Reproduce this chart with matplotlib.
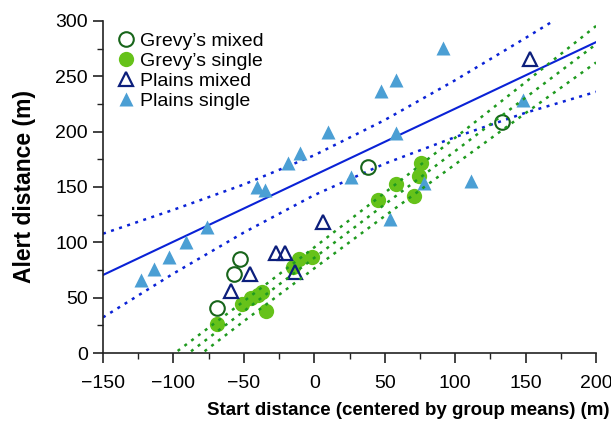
import numpy as np
import matplotlib
matplotlib.use("Agg")
import matplotlib.pyplot as plt
from matplotlib.ticker import MultipleLocator

plt.rcParams['font.family'] = ['Liberation Sans', 'DejaVu Sans']

# data (x = centered start distance, y = alert distance)
grevy_mixed_x = [-69, -57, -53, 38, 133]
grevy_mixed_y = [41, 71, 85, 168, 209]

grevy_single_x = [-69, -51, -45, -40, -37, -34, -15, -11, -2, 45, 58, 71, 74, 76]
grevy_single_y = [26, 44, 50, 52, 55, 38, 78, 85, 87, 138, 153, 142, 160, 172]

plains_mixed_x = [-59, -46, -27, -21, -14, 6, 153]
plains_mixed_y = [56, 71, 90, 90, 73, 118, 266]

plains_single_x = [-123, -114, -103, -91, -76, -41, -35, -19, -10, 10, 26,
                   47, 58, 58, 91, 78, 111, 148, 54]
plains_single_y = [66, 76, 87, 100, 114, 150, 147, 172, 181, 200, 159,
                   237, 247, 199, 276, 154, 155, 229, 121]

# fitted lines and confidence bands, read at these x positions
band_x = [-150, -100, -50, 0, 50, 100, 150, 200]
plains_fit = [70.5, 100.6, 130.6, 160.7, 190.8, 220.8, 250.9, 280.9]
plains_upper = [107.8, 129.4, 152.3, 178.7, 210.5, 246.5, 284.7, 323.7]
plains_lower = [32.2, 71.8, 108.9, 142.7, 171.1, 195.1, 217.1, 236.0]

grevy_fit = [-58.8, -10.5, 37.8, 86.0, 134.3, 182.5, 230.8, 279.0]
grevy_upper = [-49.0, -1.0, 46.8, 95.5, 144.8, 194.5, 244.8, 295.5]
grevy_lower = [-69.0, -20.0, 28.8, 76.5, 123.8, 170.5, 216.8, 262.5]

fig = plt.figure(figsize=(6.11, 4.28), dpi=100)
ax = fig.add_axes([0.1686, 0.1752, 0.807, 0.7758])

line_blue = '#0a22d6'
line_green = '#1f9a1f'

# regression lines
ax.plot(band_x, plains_fit, color=line_blue, lw=1.5, zorder=1)
ax.plot(band_x, plains_upper, color=line_blue, lw=1.8, ls=(0, (1.2, 2.2)), zorder=1)
ax.plot(band_x, plains_lower, color=line_blue, lw=1.8, ls=(0, (1.2, 2.2)), zorder=1)
for ys in (grevy_fit, grevy_upper, grevy_lower):
    ax.plot(band_x, ys, color=line_green, lw=1.8, ls=(0, (1.2, 2.2)), zorder=3)

# points
ax.plot(grevy_mixed_x, grevy_mixed_y, 'o', ms=10.5, mfc='none', mec='#17651a',
        mew=1.5, label="Grevy\u2019s mixed", zorder=2)
ax.plot(grevy_single_x, grevy_single_y, 'o', ms=11, mfc='#66c21a', mec='none',
        label="Grevy\u2019s single", zorder=2)
ax.plot(plains_mixed_x, plains_mixed_y, '^', ms=10.5, mfc='none', mec='#0c1f7c',
        mew=1.6, label="Plains mixed", zorder=2)
ax.plot(plains_single_x, plains_single_y, '^', ms=10.5, mfc='#4b9fd4', mec='none',
        label="Plains single", zorder=2)

ax.set_xlim(-150, 200)
ax.set_ylim(0, 300)
ax.xaxis.set_major_locator(MultipleLocator(50))
ax.xaxis.set_minor_locator(MultipleLocator(25))
ax.yaxis.set_major_locator(MultipleLocator(50))
ax.yaxis.set_minor_locator(MultipleLocator(25))

for side in ('top', 'right'):
    ax.spines[side].set_visible(False)
for side in ('left', 'bottom'):
    ax.spines[side].set_linewidth(1.2)
    ax.spines[side].set_color('#222222')

ax.tick_params(which='major', direction='out', length=7, width=1.2,
               labelsize=14, color='#222222')
ax.tick_params(axis='x', which='major', pad=9)
ax.tick_params(axis='y', which='major', pad=4)
ax.tick_params(which='minor', direction='out', length=4, width=1.0, color='#222222')

ax.set_xlabel('Start distance (centered by group means) (m)', fontsize=13.5,
              fontweight='bold')
ax.xaxis.set_label_coords(0.62, -0.148)
ax.set_ylabel('Alert distance (m)', fontsize=16.5, fontweight='bold', labelpad=14)

ax.legend(loc='upper left', frameon=False, fontsize=14, handletextpad=0.1,
          labelspacing=0.12, borderaxespad=0.2, handlelength=1.2,
          bbox_to_anchor=(0.0, 1.0))

fig.savefig('out.png', dpi=100)
